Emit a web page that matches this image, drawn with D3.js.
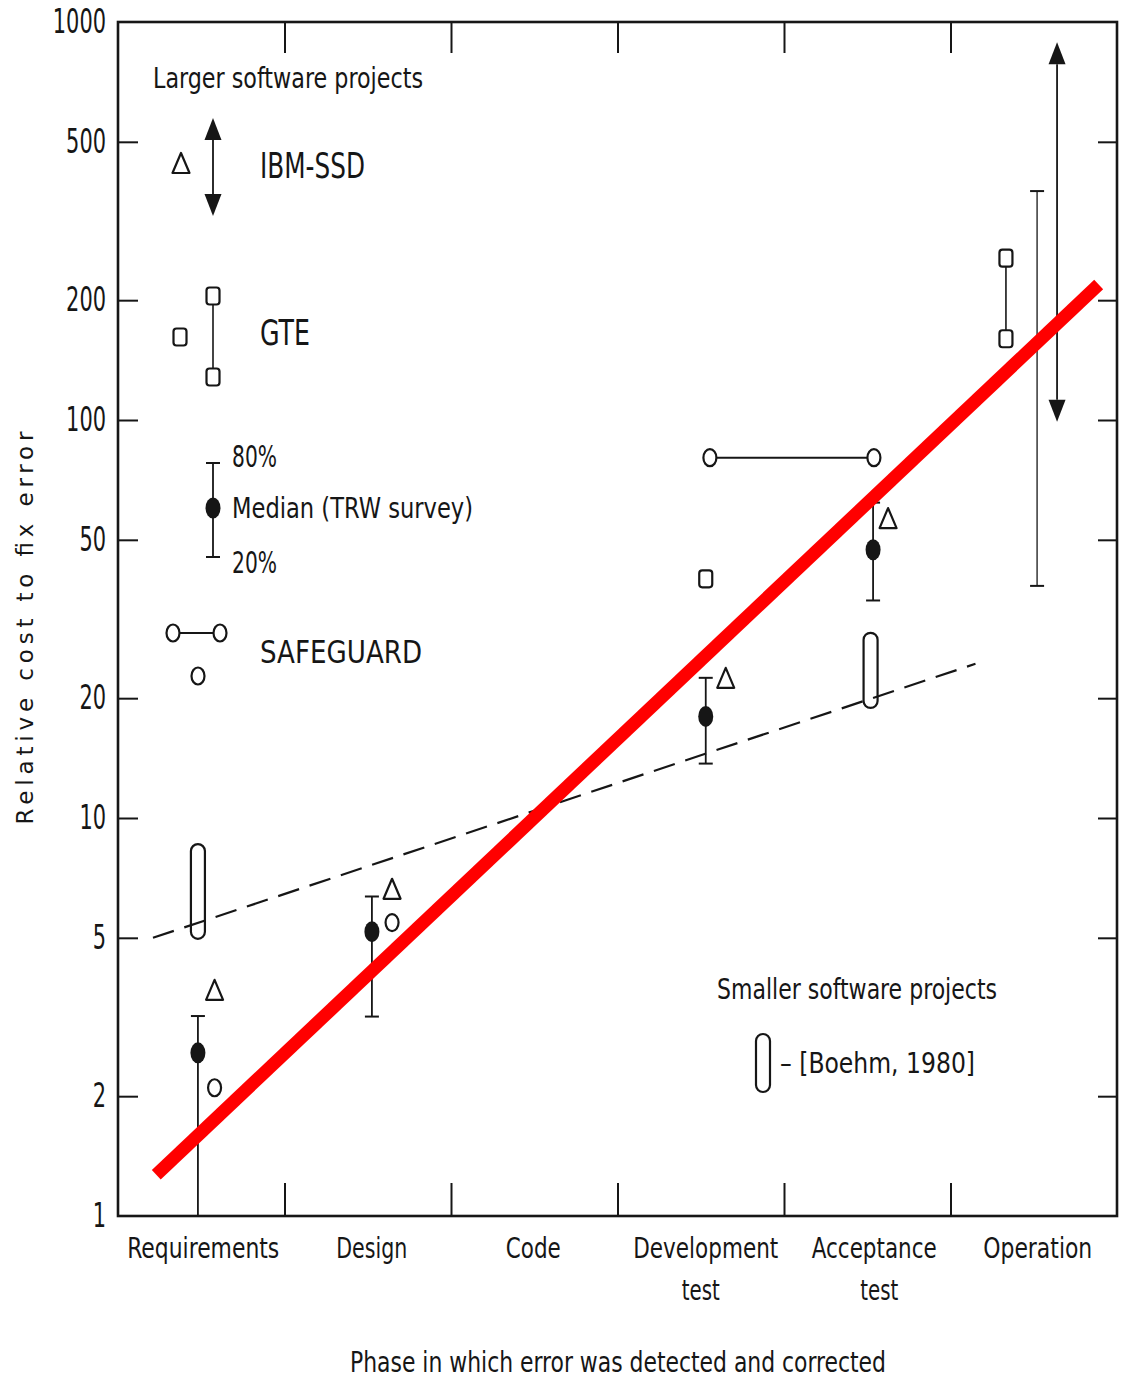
<!DOCTYPE html>
<html>
<head>
<meta charset="utf-8">
<script src="https://cdn.jsdelivr.net/npm/d3@7"></script>
<style>
  body { margin: 0; background: #fff; }
  svg { display: block; }
  text { font-family: "Liberation Sans Narrow", "DejaVu Sans Condensed", "Liberation Sans", sans-serif; }
</style>
</head>
<body>
<svg id="chart" width="1125" height="1380"></svg>
<script>
// phases along the x axis (a mark's phase = index + fraction within the band)
const phases = ["Requirements", "Design", "Code", "Development test", "Acceptance test", "Operation"];
const yTicks = [1, 2, 5, 10, 20, 50, 100, 200, 500, 1000];

// TRW survey: median with 20% / 80% range
const trwPhase = [0.48, 1.525, 3.53, 4.535];
const trwMedian = [2.57, 5.18, 18, 47.2];
const trwLow = [1, 3.17, 13.7, 35.2];
const trwHigh = [3.18, 6.35, 22.5, 62];

// IBM-SSD (triangles)
const ibmPhase = [0.58, 1.646, 3.65, 4.625];
const ibmValue = [3.7, 6.64, 22.5, 56.7];

// SAFEGUARD (open circles)
const sgPhase = [0.58, 1.646];
const sgValue = [2.1, 5.46];
const sgRangePhase = [3.555, 4.54];
const sgRangeValue = 80.4;

// GTE (squares)
const gtePhase = [3.53];
const gteValue = [39.9];
const gteRangePhase = 5.333;
const gteRange = [160, 255];

// Boehm 1980, smaller software projects
const boehmPhase = [0.48, 4.52];
const boehmLow = [4.97, 18.9];
const boehmHigh = [8.6, 29.2];

// Operation phase ranges
const opTrwPhase = 5.52;
const opTrwRange = [38.3, 376];
const opIbmPhase = 5.64;
const opIbmRange = [99, 890];

// dashed trend, smaller projects
const smallTrendPhase = [0.21, 5.15];
const smallTrendValue = [5, 24.4];

// red overlay trend
const redPhase = [0.23, 5.89];
const redValue = [1.27, 219];

const INK = "#161616";
const svg = d3.select("#chart");

const x = d3.scaleLinear().domain([0, phases.length]).range([118, 1117]);
const y = d3.scaleLog().domain([1, 1000]).range([1216, 22]);

function txt(g, str, px, py, size, width, anchor = "start") {
  return g.append("text")
    .attr("x", px)
    .attr("y", py)
    .attr("font-size", size)
    .attr("text-anchor", anchor)
    .attr("fill", INK)
    .attr("textLength", width)
    .attr("lengthAdjust", "spacingAndGlyphs")
    .text(str);
}

function triangle(g, cx, cy) {
  const w = 17, h = 20;
  g.append("path")
    .attr("d", `M${cx},${cy - h / 2}L${cx + w / 2},${cy + h / 2}L${cx - w / 2},${cy + h / 2}Z`)
    .attr("fill", "#fff").attr("stroke", INK).attr("stroke-width", 2.2)
    .attr("stroke-linejoin", "round");
}

function square(g, cx, cy) {
  g.append("rect")
    .attr("x", cx - 6.5).attr("y", cy - 8.5)
    .attr("width", 13).attr("height", 17).attr("rx", 3)
    .attr("fill", "#fff").attr("stroke", INK).attr("stroke-width", 2.2);
}

function openCircle(g, cx, cy) {
  g.append("ellipse")
    .attr("cx", cx).attr("cy", cy).attr("rx", 6.5).attr("ry", 8.5)
    .attr("fill", "#fff").attr("stroke", INK).attr("stroke-width", 2.2);
}

function median(g, cx, cy) {
  g.append("ellipse")
    .attr("cx", cx).attr("cy", cy).attr("rx", 7.5).attr("ry", 10.5)
    .attr("fill", INK);
}

function errorBar(g, cx, y1, y2, sw = 1.8) {
  g.append("line").attr("x1", cx).attr("x2", cx).attr("y1", y1).attr("y2", y2)
    .attr("stroke", INK).attr("stroke-width", sw);
  [y1, y2].forEach(yy => g.append("line")
    .attr("x1", cx - 7).attr("x2", cx + 7).attr("y1", yy).attr("y2", yy)
    .attr("stroke", INK).attr("stroke-width", 2));
}

function pill(g, cx, yTop, yBot) {
  g.append("rect")
    .attr("x", cx - 7).attr("y", yTop)
    .attr("width", 14).attr("height", yBot - yTop).attr("rx", 7)
    .attr("fill", "none").attr("stroke", INK).attr("stroke-width", 2.2);
}

function doubleArrow(g, cx, yTop, yBot) {
  const w = 17, h = 22;
  g.append("line").attr("x1", cx).attr("x2", cx).attr("y1", yTop + h).attr("y2", yBot - h)
    .attr("stroke", INK).attr("stroke-width", 1.8);
  g.append("path").attr("d", `M${cx},${yTop}L${cx + w / 2},${yTop + h}L${cx - w / 2},${yTop + h}Z`).attr("fill", INK);
  g.append("path").attr("d", `M${cx},${yBot}L${cx + w / 2},${yBot - h}L${cx - w / 2},${yBot - h}Z`).attr("fill", INK);
}

// ---- frame and ticks ----
svg.append("rect")
  .attr("x", x(0)).attr("y", y(1000))
  .attr("width", x(phases.length) - x(0)).attr("height", y(1) - y(1000))
  .attr("fill", "none").attr("stroke", INK).attr("stroke-width", 2.6);

const innerY = yTicks.filter(v => v > 1 && v < 1000);
const innerX = d3.range(1, phases.length);

const styleTicks = g => {
  g.select(".domain").remove();
  g.selectAll("line").attr("stroke", INK).attr("stroke-width", 2);
};

svg.append("g").attr("transform", `translate(${x(0)},0)`)
  .call(d3.axisRight(y).tickValues(innerY).tickSize(20).tickFormat(""))
  .call(styleTicks);
svg.append("g").attr("transform", `translate(${x(phases.length)},0)`)
  .call(d3.axisLeft(y).tickValues(innerY).tickSize(19).tickFormat(""))
  .call(styleTicks);
svg.append("g").attr("transform", `translate(0,${y(1000)})`)
  .call(d3.axisBottom(x).tickValues(innerX).tickSize(31).tickFormat(""))
  .call(styleTicks);
svg.append("g").attr("transform", `translate(0,${y(1)})`)
  .call(d3.axisTop(x).tickValues(innerX).tickSize(33).tickFormat(""))
  .call(styleTicks);

// y tick labels
svg.append("g").attr("transform", `translate(${x(0)},0)`)
  .call(d3.axisLeft(y).tickValues(yTicks).tickSize(0).tickPadding(12).tickFormat(d3.format("d")))
  .call(g => g.select(".domain").remove())
  .attr("font-family", null).attr("font-size", null)
  .selectAll("text")
  .attr("font-size", 33)
  .attr("fill", INK)
  .attr("textLength", d => String(d).length * 13.3)
  .attr("lengthAdjust", "spacingAndGlyphs");

// x category labels (two-word phases wrap onto a second line)
const catWidth = { Requirements: 152, Design: 71, Code: 55, Development: 145, Acceptance: 125, Operation: 109, test: 38 };
const catNudge = [[2], [4], [-1], [5, 0], [7, 12], [4]];
phases.forEach((p, i) => {
  p.split(" ").forEach((word, j) => {
    txt(svg, word, x(i + 0.5) + catNudge[i][j], 1258 + j * 42, 29, catWidth[word], "middle");
  });
});

// axis titles
txt(svg, "Phase in which error was detected and corrected", 618, 1372, 28, 536, "middle");
svg.append("text")
  .attr("transform", "translate(33,628) rotate(-90)")
  .attr("text-anchor", "middle")
  .attr("font-size", 23)
  .attr("fill", INK)
  .attr("textLength", 393)
  .attr("lengthAdjust", "spacing")
  .style("font-family", "'DejaVu Sans', 'Liberation Sans', sans-serif")
  .text("Relative cost to fix error");

// ---- dashed trend (smaller projects) ----
const marks = svg.append("g");
marks.append("path")
  .datum(d3.zip(smallTrendPhase, smallTrendValue))
  .attr("d", d3.line(d => x(d[0]), d => y(d[1])))
  .attr("fill", "none").attr("stroke", INK).attr("stroke-width", 2.2)
  .attr("stroke-dasharray", "22 11");

// ---- data marks ----
boehmPhase.forEach((p, i) => pill(marks, x(p), y(boehmHigh[i]), y(boehmLow[i])));

trwPhase.forEach((p, i) => {
  errorBar(marks, x(p), y(trwHigh[i]), y(trwLow[i]));
  median(marks, x(p), y(trwMedian[i]));
});

ibmPhase.forEach((p, i) => triangle(marks, x(p), y(ibmValue[i])));
sgPhase.forEach((p, i) => openCircle(marks, x(p), y(sgValue[i])));
gtePhase.forEach((p, i) => square(marks, x(p), y(gteValue[i])));

// SAFEGUARD range
marks.append("line")
  .attr("x1", x(sgRangePhase[0])).attr("x2", x(sgRangePhase[1]))
  .attr("y1", y(sgRangeValue)).attr("y2", y(sgRangeValue))
  .attr("stroke", INK).attr("stroke-width", 2);
sgRangePhase.forEach(p => openCircle(marks, x(p), y(sgRangeValue)));

// GTE range at operation
marks.append("line")
  .attr("x1", x(gteRangePhase)).attr("x2", x(gteRangePhase))
  .attr("y1", y(gteRange[0])).attr("y2", y(gteRange[1]))
  .attr("stroke", INK).attr("stroke-width", 1.6);
gteRange.forEach(v => square(marks, x(gteRangePhase), y(v)));

// operation ranges
errorBar(marks, x(opTrwPhase), y(opTrwRange[1]), y(opTrwRange[0]), 1.3);
doubleArrow(marks, x(opIbmPhase), y(opIbmRange[1]), y(opIbmRange[0]));

// ---- legend ----
const legend = svg.append("g");
txt(legend, "Larger software projects", 153, 88, 28, 270);

triangle(legend, 181, 163);
doubleArrow(legend, 213, 118, 216);
txt(legend, "IBM-SSD", 260, 178, 35, 105);

square(legend, 180, 337);
legend.append("line").attr("x1", 213).attr("x2", 213).attr("y1", 296).attr("y2", 377)
  .attr("stroke", INK).attr("stroke-width", 1.6);
square(legend, 213, 296);
square(legend, 213, 377);
txt(legend, "GTE", 260, 345, 35, 50);

errorBar(legend, 213, 463, 557);
median(legend, 213, 508);
txt(legend, "80%", 232, 467, 31, 45);
txt(legend, "Median (TRW survey)", 232, 518, 28, 241);
txt(legend, "20%", 232, 573, 31, 45);

legend.append("line").attr("x1", 173).attr("x2", 220).attr("y1", 633).attr("y2", 633)
  .attr("stroke", INK).attr("stroke-width", 2);
openCircle(legend, 173, 633);
openCircle(legend, 220, 633);
openCircle(legend, 198, 676);
txt(legend, "SAFEGUARD", 260, 663, 32, 162);

txt(legend, "Smaller software projects", 717, 999, 29, 280);
pill(legend, 763, 1034, 1092);
txt(legend, "\u2013 [Boehm, 1980]", 780, 1073, 29, 195);

// ---- red overlay line ----
svg.append("path")
  .datum(d3.zip(redPhase, redValue))
  .attr("d", d3.line(d => x(d[0]), d => y(d[1])))
  .attr("fill", "none").attr("stroke", "#ff0000").attr("stroke-width", 13)
  .attr("stroke-linecap", "butt");
</script>
</body>
</html>
